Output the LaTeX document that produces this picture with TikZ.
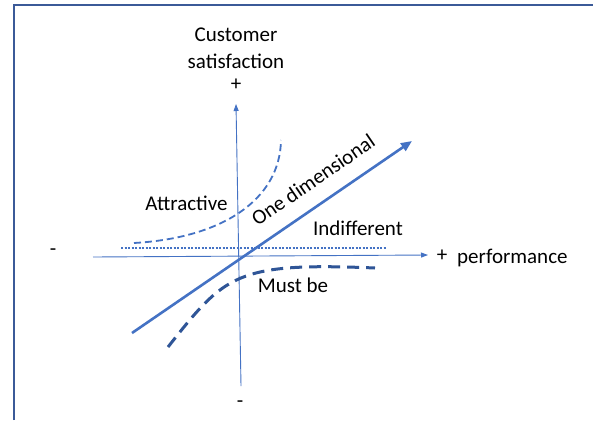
\documentclass[tikz,border=0pt]{standalone}
\usepackage{fontspec}
\setmainfont{Carlito}
\usetikzlibrary{arrows.meta}
\definecolor{axisblue}{HTML}{4472C4}
\definecolor{darkblue}{HTML}{2F5597}
\definecolor{framecol}{HTML}{3B5A98}
\tikzset{
  lbl/.style={font=\fontsize{21}{24}\selectfont, text=black, inner sep=0pt},
  axisline/.style={draw=axisblue, line width=0.9pt, -{Triangle[length=7pt,width=5pt]}},
  onedim/.style={draw=axisblue, line width=2.6pt, -{Triangle[length=11pt,width=9pt]}},
  attr/.style={draw=axisblue, line width=1.8pt, dash pattern=on 7pt off 4pt},
  mustbe/.style={draw=darkblue, line width=3pt, dash pattern=on 12pt off 7pt},
  indiff/.style={draw=axisblue, line width=2pt, dash pattern=on 2pt off 1.5pt},
}
\begin{document}
\begin{tikzpicture}[x=1pt,y=-1pt]
\useasboundingbox (0,0) rectangle (593,420);
\fill[white] (0,0) rectangle (593,420);
% frame
\draw[framecol, line width=2pt] (14,420) -- (14,5) -- (593,5);
% axes
\coordinate (vb) at (241,386);
\coordinate (vt) at (236,104);
\coordinate (hl) at (93,257);
\coordinate (hr) at (428,255);
\draw[axisline] (vb) -- (vt);
\draw[axisline] (hl) -- (hr);
% labels on axes
\node[lbl] (cust) at (236,35) {Customer};
\node[lbl] (sat) at (236,61) {satisfaction};
\node[lbl] (plusy) at (236,85) {+};
\node[lbl] (minusx) at (53,252) {-};
\node[lbl] (minusy) at (240,404) {-};
\node[lbl] (plusx) at (442,256) {+};
\node[lbl, anchor=west] (perf) at (457,258) {performance};
% indifferent dotted line
\coordinate (il) at (121,247.5);
\coordinate (ir) at (386,247.5);
\draw[indiff] (il) -- (ir);
% attractive
\coordinate (as) at (134,243);
\coordinate (ae) at (281,140);
\draw[attr] (as) .. controls (222,238) and (280,200) .. (ae);
% must be
\coordinate (ms) at (168,347);
\coordinate (me) at (375,268);
\draw[mustbe] (ms) .. controls (225,275) and (235,262) .. (me);
% one dimensional
\coordinate (os) at (132,333);
\coordinate (oe) at (412,141);
\draw[onedim] (os) -- (oe);
% curve labels
\node[lbl] (attrlbl) at (186.5,203) {Attractive};
\node[lbl] (indlbl) at (358,228) {Indifferent};
\node[lbl] (mustlbl) at (293,285) {Must be};
\node[lbl, rotate=34.4] (onelbl) at (313,180) {One dimensional};
\end{tikzpicture}
\end{document}
